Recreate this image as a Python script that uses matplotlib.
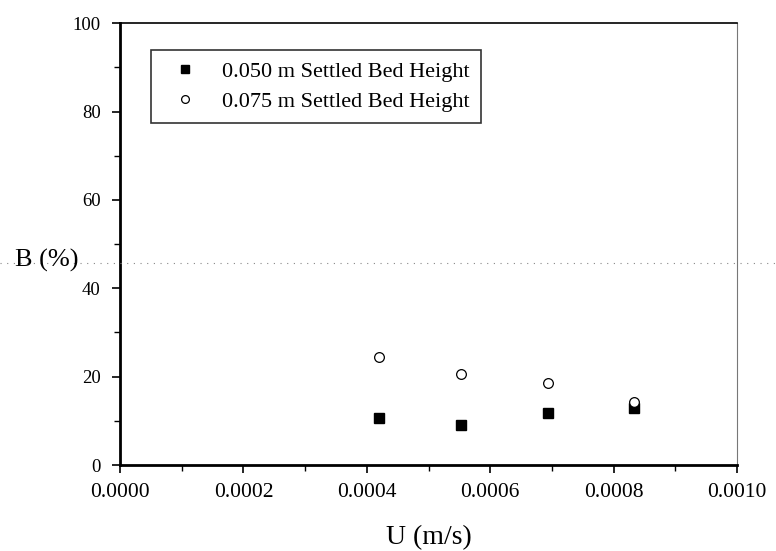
import matplotlib.pyplot as plt
from matplotlib.lines import Line2D
from matplotlib.ticker import MultipleLocator, FormatStrFormatter

# superficial velocity U (m/s) and B (%) for the two settled bed heights
u_050 = [0.00042, 0.000553, 0.000694, 0.000832]
b_050 = [10.7, 9.1, 11.7, 12.8]
u_075 = [0.00042, 0.000553, 0.000694, 0.000832]
b_075 = [24.5, 20.6, 18.5, 14.3]
labels = ["0.050 m Settled Bed Height", "0.075 m Settled Bed Height"]

plt.rcParams['font.family'] = ['Liberation Serif', 'DejaVu Serif']

fig = plt.figure(figsize=(7.76, 5.51), dpi=100)
ax = fig.add_axes([0.1546, 0.156, 0.7954, 0.802])

ax.plot(u_050, b_050, linestyle='none', marker='s', markersize=6.5,
        color='black', label=labels[0])
ax.plot(u_075, b_075, linestyle='none', marker='o', markersize=7,
        markerfacecolor='white', markeredgecolor='black', markeredgewidth=0.9,
        label=labels[1])

ax.set_xlim(0, 0.001)
ax.set_ylim(0, 100)
ax.xaxis.set_major_locator(MultipleLocator(0.0002))
ax.xaxis.set_minor_locator(MultipleLocator(0.0001))
ax.xaxis.set_major_formatter(FormatStrFormatter('%.4f'))
ax.yaxis.set_major_locator(MultipleLocator(20))
ax.yaxis.set_minor_locator(MultipleLocator(10))

ax.tick_params(which='major', direction='out', length=6, width=1.2)
ax.tick_params(which='minor', direction='out', length=4, width=1.0)
ax.tick_params(axis='x', labelsize=15.5, pad=7)
ax.tick_params(axis='y', labelsize=13.5, pad=8)

for side in ['left', 'bottom']:
    ax.spines[side].set_linewidth(2)
ax.spines['top'].set_linewidth(1.2)
ax.spines['right'].set_linewidth(0.8)
ax.spines['right'].set_color('#777777')

fig.text(0.553, 0.025, 'U (m/s)', fontsize=20, ha='center', va='center')
fig.text(0.019, 0.528, 'B (%)', fontsize=19, ha='left', va='center')

leg = ax.legend(loc='upper left', bbox_to_anchor=(0.05, 0.939), borderaxespad=0,
                fontsize=16, frameon=True, fancybox=False, edgecolor='black',
                handletextpad=0.6, borderpad=0.5, labelspacing=0.44,
                handlelength=2.1, markerscale=0.8)
leg.get_frame().set_linewidth(1.2)

# faint dotted scan line across the page
fig.add_artist(Line2D([0, 1], [0.523, 0.523], transform=fig.transFigure,
                      color='#888888', linestyle=(0, (1, 5)), linewidth=0.8))

fig.savefig('out.png', dpi=100)
